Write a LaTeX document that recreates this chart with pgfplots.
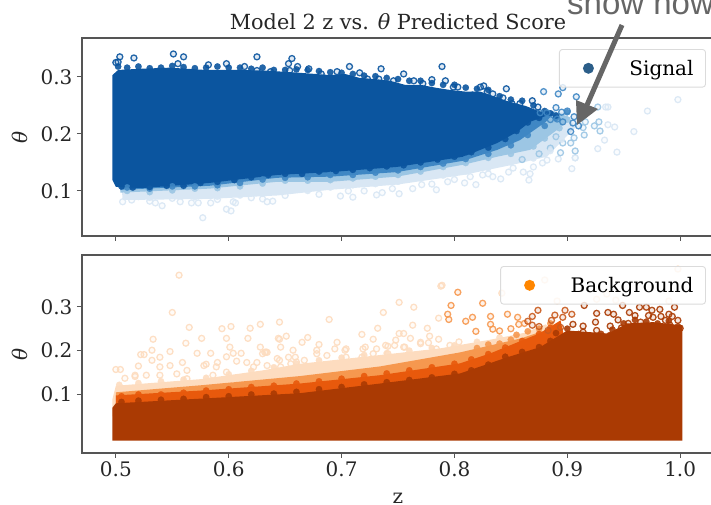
\documentclass[border=0pt]{standalone}
\usepackage{pgfplots}
\usepackage{fontspec}
\pgfplotsset{compat=1.18}
\setmainfont{DejaVu Serif}
\newfontfamily\arialf{Liberation Sans}
\definecolor{bd}{HTML}{0B559F}
\definecolor{bm}{HTML}{3F87C4}
\definecolor{bl}{HTML}{9CC6E4}
\definecolor{bv}{HTML}{D9E7F4}
\definecolor{od}{HTML}{AA3A03}
\definecolor{oc}{HTML}{C85A1E}
\definecolor{om}{HTML}{E8590C}
\definecolor{on}{HTML}{F6984F}
\definecolor{op}{HTML}{FDDCBF}
\definecolor{spine}{HTML}{555555}
\pgfplotsset{
 base/.style={
  scale only axis, width=632pt, height=198pt,
  xmin=0.47, xmax=1.03,
  xtick={0.5,0.6,0.7,0.8,0.9,1.0}, ytick={0.1,0.2,0.3},
  xtick pos=lower, ytick pos=lower, tick align=outside,
  major tick length=5pt,
  tick style={color=spine,line width=1pt},
  axis line style={color=spine,line width=1.1pt},
  tick label style={font=\fontsize{20}{23}\selectfont,text=black!85},
  label style={font=\fontsize{20}{23}\selectfont,text=black!85},
  /pgf/number format/assume math mode=true,
  /pgf/number format/fixed, /pgf/number format/fixed zerofill, /pgf/number format/precision=1,
  yticklabel style={xshift=-1pt},
  ylabel style={at={(axis description cs:-0.098,0.5)},anchor=center},
 },
 rings/.style={forget plot, only marks, mark=*, mark size=3pt,
   mark options={draw=#1,fill=#1,fill opacity=0.12,draw opacity=0.9,line width=1.3pt}},
 dots/.style={forget plot, only marks, mark=*, mark size=3.2pt,
   mark options={draw=#1,fill=#1,line width=0.2pt,fill opacity=0.9,draw opacity=0.9}},
 leg/.style={legend cell align=left, legend style={draw=black!14, line width=0.9pt, rounded corners=3pt, fill=white, fill opacity=0.8, text opacity=1, font=\fontsize{20}{23}\selectfont, inner xsep=10pt, inner ysep=8.5pt, anchor=north east}},
}
\begin{document}
\begin{tikzpicture}[x=1pt,y=1pt]
\useasboundingbox (0,0) rectangle (711,505);
\clip (0,0) rectangle (711,505);
\begin{axis}[base, at={(82pt,269pt)}, ymin=0.021, ymax=0.368, xticklabels={},
  ylabel={\textit{θ}}, leg, legend style={at={(rel axis cs:0.9873,0.9444)}},
  legend image code/.code={\path[draw=none] (0pt,0pt) rectangle (58pt,0pt); \fill[draw=none,fill=bm!70!black,fill opacity=1] (19pt,0pt) circle (5.5pt);},
  title={Model 2 z vs. \textit{θ} Predicted Score},
  title style={at={(0.5,1)},anchor=base,yshift=2pt,font=\fontsize{20.8}{23}\selectfont,text=black!85}]
\addplot[rings=bv] coordinates {(.934,.247)(.936,.247)(.936,.216)(.942,.212)(.933,.189)(.927,.174)(.944,.168)(.907,.158)(.998,.260)(.971,.240)(.959,.204)
(.506,.081)(.514,.084)(.530,.082)(.535,.079)(.541,.074)(.557,.081)(.567,.079)(.573,.079)(.584,.079)(.577,.053)(.598,.068)(.602,.065)(.604,.081)(.606,.079)(.630,.086)(.634,.081)(.639,.082)(.699,.091)(.710,.089)(.706,.100)(.736,.097)(.731,.093)(.751,.095)(.763,.104)(.784,.102)(.771,.111)(.794,.116)(.809,.114)(.819,.111)(.814,.125)(.841,.121)(.834,.125)(.825,.128)(.848,.133)(.866,.119)(.867,.130)(.852,.140)(.861,.133)(.904,.139)(.878,.149)(.882,.154)(.892,.156)(.907,.158)
(.52,.09)(.55,.087)(.59,.085)(.62,.088)(.65,.092)(.68,.094)(.72,.1)(.745,.104)(.78,.112)(.80,.12)(.83,.13)(.87,.142)};
\addplot[rings=bl] coordinates {(.916,.221)(.914,.211)(.927,.247)(.928,.221)(.924,.214)(.929,.205)(.906,.193)(.915,.198)(.896,.184)(.903,.184)(.894,.167)(.907,.170)(.885,.175)(.875,.165)(.86,.155)(.89,.195)};
\addplot[forget plot,fill=bv,draw=none] coordinates {(.506,.084)(.583,.086)(.643,.092)(.690,.102)(.749,.111)(.808,.128)(.852,.146)(.882,.160)(.896,.189)(.907,.211)(.898,.237)(.796,.242)(.5,.242)} -- cycle;
\addplot[dots=bv] coordinates {(.51,.09)(.53,.088)(.55,.092)(.57,.089)(.59,.09)(.61,.092)(.63,.095)(.65,.1)(.67,.1)(.69,.106)(.71,.11)(.73,.112)(.75,.116)(.77,.122)(.79,.127)(.81,.134)(.83,.14)(.85,.15)(.87,.157)(.885,.17)(.895,.19)};
\addplot[dots=bl] coordinates {(.51,.1)(.53,.098)(.55,.101)(.57,.104)(.59,.105)(.61,.108)(.63,.113)(.65,.118)(.67,.118)(.69,.119)(.71,.122)(.73,.125)(.75,.128)(.77,.134)(.79,.142)(.81,.149)(.83,.158)(.85,.165)(.87,.178)(.88,.192)(.893,.21)(.90,.225)};
\addplot[forget plot,fill=bl,draw=none] coordinates {(.504,.097)(.583,.104)(.643,.116)(.690,.116)(.749,.125)(.808,.146)(.838,.160)(.867,.172)(.891,.207)(.903,.228)(.889,.239)(.796,.242)(.5,.242)} -- cycle;
\addplot[forget plot,fill=bm,draw=none] coordinates {(.504,.102)(.583,.109)(.643,.123)(.690,.125)(.749,.133)(.808,.153)(.838,.172)(.858,.189)(.881,.221)(.889,.239)(.796,.242)(.5,.242)} -- cycle;
\addplot[dots=bm] coordinates {(.51,.106)(.53,.104)(.55,.108)(.57,.108)(.59,.11)(.61,.114)(.63,.12)(.65,.123)(.67,.124)(.69,.128)(.71,.128)(.73,.132)(.75,.136)(.77,.142)(.79,.148)(.81,.156)(.83,.165)(.85,.18)(.865,.198)(.88,.214)(.89,.228)(.90,.238)};
\addplot[forget plot,fill=bd,draw=none] coordinates {(.497,.119)(.5,.107)(.524,.105)(.583,.114)(.643,.128)(.690,.133)(.749,.142)(.808,.160)(.838,.184)(.856,.204)(.867,.221)(.883,.233)(.876,.239)(.863,.249)(.849,.256)(.836,.265)(.823,.274)(.810,.274)(.796,.277)(.783,.281)(.770,.286)(.756,.286)(.743,.293)(.730,.296)(.716,.298)(.703,.305)(.690,.303)(.663,.307)(.632,.311)(.606,.312)(.579,.312)(.548,.316)(.521,.314)(.502,.312)(.497,.303)} -- cycle;
\addplot[dots=bd] coordinates {(.502,.318)(.510,.316)(.52,.318)(.53,.315)(.54,.316)(.55,.319)(.56,.317)(.57,.315)(.58,.316)(.59,.318)(.60,.316)(.61,.316)(.62,.314)(.63,.316)(.64,.312)(.65,.312)(.66,.313)(.67,.312)(.68,.31)(.69,.308)(.70,.307)(.71,.305)(.72,.302)(.73,.301)(.74,.298)(.75,.296)(.76,.293)(.77,.293)(.78,.289)(.79,.286)(.80,.286)(.81,.281)(.82,.279)(.83,.277)(.84,.266)(.85,.26)(.86,.258)(.87,.25)(.88,.24)(.89,.232)
(.505,.108)(.515,.106)(.53,.107)(.545,.109)(.56,.109)(.575,.114)(.59,.116)(.605,.119)(.62,.124)(.635,.128)(.65,.13)(.665,.13)(.68,.134)(.695,.135)(.71,.137)(.725,.14)(.74,.143)(.755,.145)(.77,.15)(.785,.155)(.80,.16)(.815,.168)(.83,.176)(.845,.191)(.855,.205)(.865,.22)(.875,.228)(.885,.236)};
\addplot[rings=bm] coordinates {(.879,.274)(.892,.270)(.896,.281)(.890,.246)(.908,.265)(.882,.237)(.876,.237)(.891,.226)(.896,.221)(.906,.230)(.905,.219)(.910,.214)(.903,.204)(.885,.225)(.895,.238)(.90,.24)};
\addplot[rings=bd] coordinates {(.5035,.335)(.516,.333)(.551,.340)(.560,.335)(.555,.323)(.598,.323)(.500,.325)(.502,.326)(.625,.335)(.656,.332)(.653,.323)(.661,.318)(.671,.314)(.707,.318)(.735,.314)(.716,.307)(.682,.305)(.654,.311)(.582,.321)(.696,.309)(.723,.296)(.733,.296)(.746,.293)(.625,.311)(.637,.309)(.614,.318)(.789,.318)(.755,.305)(.764,.293)(.772,.288)(.780,.295)(.792,.293)(.799,.282)(.803,.282)(.823,.282)(.826,.284)(.846,.279)(.829,.274)(.834,.270)(.816,.268)(.843,.263)(.838,.258)(.869,.258)(.858,.253)(.851,.253)(.874,.247)};
\addlegendimage{}
\addlegendentry{Signal}
\end{axis}
\begin{axis}[base, at={(82pt,52pt)}, ymin=-0.0333, ymax=0.418,
  xlabel={z}, ylabel={\textit{θ}}, leg, legend style={at={(rel axis cs:0.9873,0.9444)}},
  legend image code/.code={\path[draw=none] (0pt,0pt) rectangle (58pt,0pt); \fill[draw=none,fill=orange!95!yellow,fill opacity=1] (19pt,0pt) circle (5.5pt);},
  xlabel style={at={(axis description cs:0.5,0)},anchor=base,yshift=-50pt}]
\addplot[rings=op] coordinates {(.556,.372)(.550,.287)(.565,.253)(.594,.250)(.602,.255)(.619,.251)(.628,.260)(.645,.265)(.651,.233)(.644,.228)(.617,.228)(.598,.228)(.576,.228)(.533,.226)(.562,.217)(.532,.201)(.548,.198)(.601,.208)(.628,.208)(.522,.191)(.525,.191)(.584,.194)(.572,.194)(.598,.186)(.611,.194)(.632,.196)(.646,.208)(.657,.201)(.520,.165)(.500,.157)(.504,.157)(.532,.178)(.539,.185)(.559,.173)(.580,.169)(.590,.173)(.607,.176)(.616,.173)(.625,.173)(.643,.182)(.508,.137)(.517,.144)(.689,.271)(.737,.287)(.751,.310)(.764,.299)(.788,.347)(.786,.274)(.732,.251)(.763,.258)(.776,.251)(.718,.237)(.728,.226)(.751,.239)(.755,.239)(.748,.224)(.761,.228)(.778,.233)(.786,.226)(.670,.230)(.645,.226)(.665,.219)(.680,.214)(.696,.219)(.634,.196)(.604,.194)(.789,.349)(.703,.201)(.721,.208)(.739,.212)(.756,.208)(.770,.219)
(.842,.331)(.880,.361)(.891,.313)(.998,.386)(.926,.317)(.935,.329)(.943,.315)(.990,.313)
(.630,.193)(.633,.197)(.645,.178)(.653,.185)(.659,.185)(.667,.178)(.678,.201)(.678,.193)(.687,.189)(.694,.204)(.704,.204)(.704,.185)(.719,.204)(.718,.185)(.731,.204)(.728,.193)(.741,.21)(.741,.193)(.747,.212)(.755,.208)(.770,.216)(.777,.218)(.784,.204)(.796,.212)(.799,.204)(.804,.22)
(.539,.163)(.548,.166)(.539,.144)(.554,.147)(.563,.155)(.578,.166)(.589,.163)(.598,.151)(.622,.163)(.634,.166)(.646,.163)(.655,.170)(.660,.174)(.527,.144)(.517,.141)(.563,.136)(.586,.144)(.604,.136)(.640,.147)};
\addplot[forget plot,fill=op,draw=none] coordinates {(.497,.09)(.5,.12)(.575,.135)(.63,.155)(.663,.17)(.734,.19)(.787,.205)(.832,.225)(.861,.24)(.881,.26)(.9,.2)(.9,.05)(.497,.05)} -- cycle;
\addplot[dots=op] coordinates {(.503,.122)(.52,.126)(.54,.13)(.56,.134)(.58,.138)(.60,.146)(.62,.154)(.64,.162)(.66,.17)(.68,.178)(.70,.184)(.72,.19)(.74,.194)(.76,.2)(.78,.206)(.80,.212)(.82,.22)(.84,.23)};
\addplot[dots=on] coordinates {(.82,.206)(.84,.216)(.855,.236)(.865,.244)(.875,.25)(.885,.262)(.85,.225)(.83,.214)};
\addplot[forget plot,fill=on,draw=none] coordinates {(.5,.105)(.575,.121)(.663,.142)(.734,.164)(.805,.196)(.859,.228)(.894,.258)(.9,.2)(.9,.05)(.5,.05)} -- cycle;
\addplot[forget plot,fill=om,draw=none] coordinates {(.5,.098)(.575,.109)(.663,.125)(.734,.144)(.805,.171)(.832,.194)(.876,.240)(.894,.269)(.9,.2)(.9,.05)(.5,.05)} -- cycle;
\addplot[dots=om] coordinates {(.505,.096)(.52,.1)(.54,.1)(.56,.104)(.58,.109)(.60,.112)(.62,.117)(.64,.12)(.66,.125)(.68,.13)(.70,.136)(.72,.142)(.74,.148)(.76,.155)(.78,.162)(.80,.17)(.815,.18)(.83,.192)(.845,.207)(.86,.222)(.875,.238)(.885,.252)};
\addplot[forget plot,fill=od,draw=none] coordinates {(.497,-.005)(1.002,-.005)(1.002,.258)(1.0,.258)(.976,.265)(.953,.262)(.936,.239)(.900,.246)(.876,.208)(.847,.185)(.805,.148)(.734,.125)(.663,.103)(.592,.093)(.5,.080)(.497,.07)} -- cycle;
\addplot[dots=od] coordinates {(.505,.083)(.52,.086)(.54,.088)(.56,.09)(.58,.094)(.60,.096)(.62,.1)(.64,.102)(.66,.106)(.68,.112)(.70,.117)(.72,.123)(.74,.128)(.76,.133)(.78,.139)(.80,.147)(.815,.155)(.83,.168)(.845,.186)(.86,.197)(.875,.208)(.885,.222)(.89,.240)(.90,.25)(.91,.238)(.92,.235)(.93,.238)(.94,.248)(.95,.262)(.96,.27)(.97,.266)(.98,.262)(.99,.268)(.998,.255)};
\addplot[rings=on] coordinates {(.803,.333)(.825,.308)(.797,.303)(.794,.283)(.795,.271)(.810,.267)(.816,.276)(.832,.278)(.847,.283)(.856,.276)(.819,.244)(.832,.260)(.834,.249)(.857,.260)(.84,.245)(.85,.25)(.862,.262)};
\addplot[rings=oc] coordinates {(.874,.292)(.869,.278)(.865,.267)(.869,.258)(.889,.281)(.886,.269)(.896,.276)(.898,.292)(.904,.283)(.894,.253)(.883,.246)(.875,.255)};
\addplot[rings=od] coordinates {(.915,.303)(.926,.285)(.936,.287)(.941,.283)(.949,.303)(.955,.287)(.964,.299)(.970,.299)(.975,.292)(.982,.294)(.990,.283)(.995,.299)(.993,.278)(.925,.265)(.914,.256)(.938,.256)(.954,.262)(.965,.265)(.976,.276)(.987,.269)(.914,.242)(.926,.246)(.991,.258)(.965,.246)(.938,.235)(1.0,.251)(.998,.269)(.905,.26)(.945,.27)(.96,.28)(.972,.28)(.983,.278)(.948,.252)};
\addlegendimage{}
\addlegendentry{Background}
\end{axis}
\node[anchor=base west,font=\arialf\fontsize{33}{36}\selectfont,text=black!60,inner sep=0pt] at (567,490) {show now};
\draw[line width=5pt,color=black!60] (622,480) -- (587,400);
\fill[color=black!60] (577,380) -- (576,405) -- (598,396) -- cycle;
\end{tikzpicture}
\end{document}
